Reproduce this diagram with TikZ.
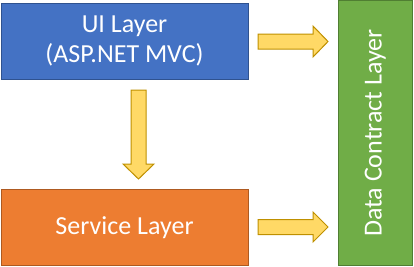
\documentclass[tikz,border=0pt]{standalone}
\usepackage{fontspec}
\setmainfont{Carlito}
\usepackage{tikz}
\usetikzlibrary{positioning}

\definecolor{uiblue}{HTML}{4472C4}
\definecolor{uiedge}{HTML}{2F528F}
\definecolor{svorange}{HTML}{ED7D31}
\definecolor{svedge}{HTML}{AE5A21}
\definecolor{dcgreen}{HTML}{70AD47}
\definecolor{dcedge}{HTML}{507E32}
\definecolor{arrfill}{HTML}{FFD966}
\definecolor{arredge}{HTML}{BF9000}

\tikzset{
  layer/.style={draw,line width=1pt,text=white,align=center,inner sep=0pt,
    font=\fontsize{26}{30}\selectfont},
  fatarrow/.style={draw=arredge,fill=arrfill,line width=1pt,line join=miter}
}

\begin{document}
\begin{tikzpicture}[x=1pt,y=-1pt]
\useasboundingbox (0,0) rectangle (414,266);
% the three layers
\node[layer,fill=uiblue,draw=uiedge,minimum width=247pt,minimum height=75.5pt] (ui) at (124.5,41.25)
  {UI Layer\\(ASP.NET MVC)};
\node[layer,fill=svorange,draw=svedge,minimum width=247pt,minimum height=76.5pt] (service) at (124.5,227.25)
  {Service Layer};
\node[layer,fill=dcgreen,draw=dcedge,minimum width=73.5pt,minimum height=265pt] (data) at (375.25,133)
  {\rotatebox{90}{Data Contract Layer}};
% block arrows
\draw[fatarrow] (258,34) -- (313,34) -- (313,26) -- (328,41.5) -- (313,57) -- (313,49) -- (258,49) -- cycle;
\draw[fatarrow] (258,219.5) -- (313,219.5) -- (313,212) -- (328,227) -- (313,242) -- (313,234.5) -- (258,234.5) -- cycle;
\draw[fatarrow] (131,90) -- (146,90) -- (146,164) -- (154,164) -- (138.5,179) -- (123,164) -- (131,164) -- cycle;
\end{tikzpicture}
\end{document}
